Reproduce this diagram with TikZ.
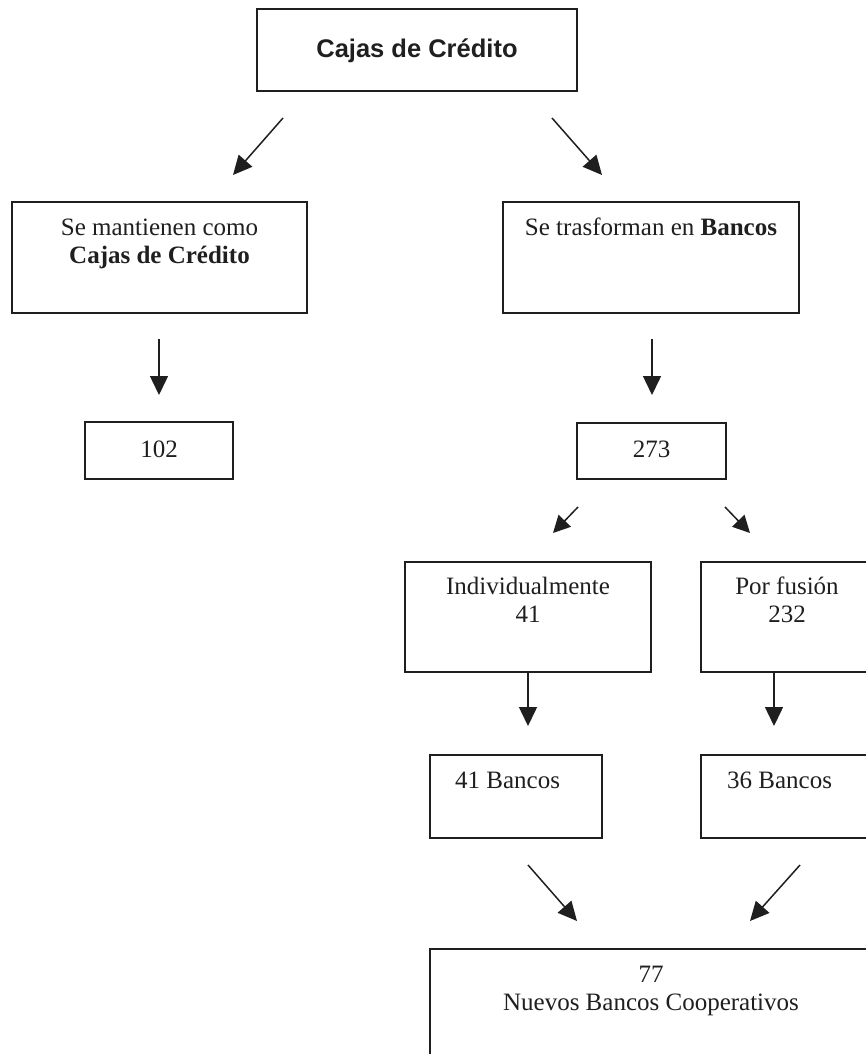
\documentclass[tikz,border=0pt]{standalone}
\usepackage{fontspec}
\setmainfont{Liberation Serif}
\newfontfamily\arialfont{Liberation Sans}
\usetikzlibrary{arrows.meta}
\definecolor{ink}{gray}{0.12}
\tikzset{
  box/.style={draw=ink, line width=1.8pt, rectangle, inner sep=0pt, fill=none},
  txt/.style={anchor=base, inner sep=0pt, text=ink, font=\fontsize{25}{28}\selectfont},
  toptxt/.style={anchor=base, inner sep=0pt, text=ink, font=\arialfont\bfseries\fontsize{25.5}{28}\selectfont},
  arr/.style={draw=ink, line width=1.5pt, -{Triangle[length=19pt,width=18pt]}},
  smallarr/.style={draw=ink, line width=1.5pt, -{Triangle[length=17pt,width=17pt]}},
}
\begin{document}
\begin{tikzpicture}[x=1pt,y=-1pt]
\useasboundingbox (0,0) rectangle (866,1054);
\fill[white] (0,0) rectangle (866,1054);
\clip (0,0) rectangle (866,1054);
% boxes
\node[box, minimum width=320pt, minimum height=82pt] (top) at (417,50) {};
\node[box, minimum width=295pt, minimum height=111pt] (keep) at (159.5,257.5) {};
\node[box, minimum width=296pt, minimum height=111pt] (trans) at (651,257.5) {};
\node[box, minimum width=148pt, minimum height=57pt] (n102) at (159,450.5) {};
\node[box, minimum width=149pt, minimum height=56pt] (n273) at (651.5,451) {};
\node[box, minimum width=246pt, minimum height=110pt] (ind) at (528,617) {};
\node[box, minimum width=172pt, minimum height=110pt] (fus) at (787,617) {};
\node[box, minimum width=172pt, minimum height=83pt] (b41) at (516,796.5) {};
\node[box, minimum width=172pt, minimum height=83pt] (b36) at (787,796.5) {};
\node[box, minimum width=442pt, minimum height=116pt] (nuevos) at (651,1007) {};
% texts
\node[toptxt] (ttop) at (417,58) {Cajas de Crédito};
\node[txt] (tkeep1) at (159.5,235) {Se mantienen como};
\node[txt] (tkeep2) at (159.5,263) {\textbf{Cajas de Crédito}};
\node[txt] (ttrans) at (651,235) {Se trasforman en \textbf{Bancos}};
\node[txt] (t102) at (159,457) {102};
\node[txt] (t273) at (651.5,457) {273};
\node[txt] (tind1) at (528,594) {Individualmente};
\node[txt] (tind2) at (528,622) {41};
\node[txt] (tfus1) at (787,594) {Por fusión};
\node[txt] (tfus2) at (787,622) {232};
\node[txt, anchor=base west] (tb41) at (455,788) {41 Bancos};
\node[txt, anchor=base west] (tb36) at (727,788) {36 Bancos};
\node[txt] (t77) at (651,982) {77};
\node[txt] (tnuevos) at (651,1010) {Nuevos Bancos Cooperativos};
% arrow end points
\coordinate (a1s) at (283,118); \coordinate (a1e) at (233,175);
\coordinate (a2s) at (552,118); \coordinate (a2e) at (602,175);
\coordinate (a3s) at (159,339); \coordinate (a3e) at (159,395);
\coordinate (a4s) at (652,339); \coordinate (a4e) at (652,395);
\coordinate (a5s) at (578,507); \coordinate (a5e) at (553,533);
\coordinate (a6s) at (725,507); \coordinate (a6e) at (750,533);
\coordinate (a7e) at (528,726);
\coordinate (a8s) at (774,672); \coordinate (a8e) at (774,726);
\coordinate (a9s) at (528,865); \coordinate (a9e) at (577,921);
\coordinate (a10s) at (800,865); \coordinate (a10e) at (750,921);
% arrows
\draw[arr] (a1s) -- (a1e);
\draw[arr] (a2s) -- (a2e);
\draw[arr] (a3s) -- (a3e);
\draw[arr] (a4s) -- (a4e);
\draw[smallarr] (a5s) -- (a5e);
\draw[smallarr] (a6s) -- (a6e);
\draw[arr] (ind.south) -- (a7e);
\draw[arr] (a8s) -- (a8e);
\draw[arr] (a9s) -- (a9e);
\draw[arr] (a10s) -- (a10e);
\end{tikzpicture}
\end{document}
